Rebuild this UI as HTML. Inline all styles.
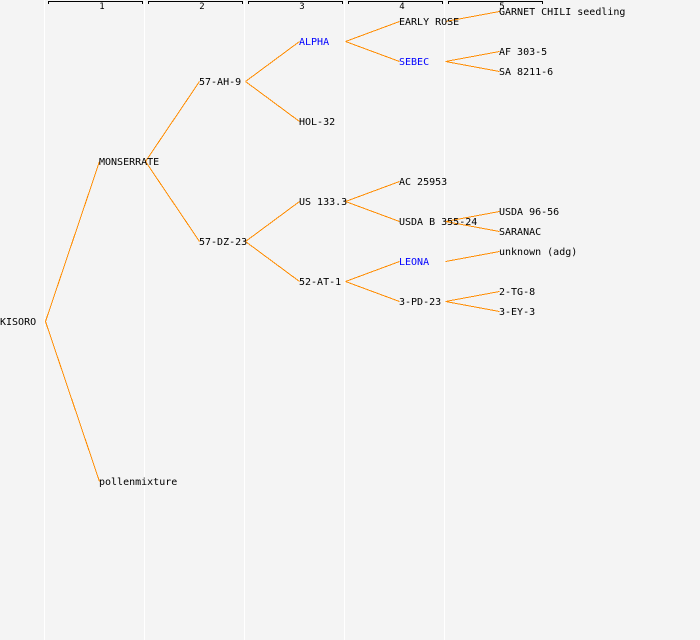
<!DOCTYPE html>
<html>
<head>
<meta charset="utf-8">
<style>
html,body{margin:0;padding:0;background:#f4f4f4;}
svg{display:block;}
text{font-family:"DejaVu Sans Mono","Liberation Mono",monospace;font-size:10px;fill:#000;}
.b{fill:#0000ff;}
.h{font-size:9px;text-anchor:middle;}
.o line{stroke:#ff8c00;stroke-width:1;}
.v line{stroke:#ffffff;stroke-width:1;}
.k path{stroke:#000;stroke-width:1;fill:none;}
</style>
</head>
<body>
<svg width="700" height="640" viewBox="0 0 700 640" xmlns="http://www.w3.org/2000/svg">
<rect width="700" height="640" fill="#f4f4f4"/>
<g class="v" shape-rendering="crispEdges">
<line x1="44.5" y1="0" x2="44.5" y2="640"/>
<line x1="144.5" y1="0" x2="144.5" y2="640"/>
<line x1="244.5" y1="0" x2="244.5" y2="640"/>
<line x1="344.5" y1="0" x2="344.5" y2="640"/>
<line x1="444.5" y1="0" x2="444.5" y2="640"/>
</g>
<g class="k" shape-rendering="crispEdges">
<path d="M48.5 4V1.5H142.5V4"/>
<path d="M148.5 4V1.5H242.5V4"/>
<path d="M248.5 4V1.5H342.5V4"/>
<path d="M348.5 4V1.5H442.5V4"/>
<path d="M448.5 4V1.5H542.5V4"/>
</g>
<text class="h" x="102" y="9">1</text>
<text class="h" x="202" y="9">2</text>
<text class="h" x="302" y="9">3</text>
<text class="h" x="402" y="9">4</text>
<text class="h" x="502" y="9">5</text>
<g class="o" shape-rendering="crispEdges">
<line x1="45.5" y1="321.5" x2="99.5" y2="161.5"/>
<line x1="45.5" y1="321.5" x2="99.5" y2="481.5"/>
<line x1="145.5" y1="161.5" x2="199.5" y2="81.5"/>
<line x1="145.5" y1="161.5" x2="199.5" y2="241.5"/>
<line x1="245.5" y1="81.5" x2="299.5" y2="41.5"/>
<line x1="245.5" y1="81.5" x2="299.5" y2="121.5"/>
<line x1="245.5" y1="241.5" x2="299.5" y2="201.5"/>
<line x1="245.5" y1="241.5" x2="299.5" y2="281.5"/>
<line x1="345.5" y1="41.5" x2="399.5" y2="21.5"/>
<line x1="345.5" y1="41.5" x2="399.5" y2="61.5"/>
<line x1="345.5" y1="201.5" x2="399.5" y2="181.5"/>
<line x1="345.5" y1="201.5" x2="399.5" y2="221.5"/>
<line x1="345.5" y1="281.5" x2="399.5" y2="261.5"/>
<line x1="345.5" y1="281.5" x2="399.5" y2="301.5"/>
<line x1="445.5" y1="21.5" x2="499.5" y2="11.5"/>
<line x1="445.5" y1="61.5" x2="499.5" y2="51.5"/>
<line x1="445.5" y1="61.5" x2="499.5" y2="71.5"/>
<line x1="445.5" y1="221.5" x2="499.5" y2="211.5"/>
<line x1="445.5" y1="221.5" x2="499.5" y2="231.5"/>
<line x1="445.5" y1="261.5" x2="499.5" y2="251.5"/>
<line x1="445.5" y1="301.5" x2="499.5" y2="291.5"/>
<line x1="445.5" y1="301.5" x2="499.5" y2="311.5"/>
</g>
<text x="0" y="325">KISORO</text>
<text x="99" y="165">MONSERRATE</text>
<text x="99" y="485">pollenmixture</text>
<text x="199" y="85">57-AH-9</text>
<text x="199" y="245">57-DZ-23</text>
<text class="b" x="299" y="45">ALPHA</text>
<text x="299" y="125">HOL-32</text>
<text x="299" y="205">US 133.3</text>
<text x="299" y="285">52-AT-1</text>
<text x="399" y="25">EARLY ROSE</text>
<text class="b" x="399" y="65">SEBEC</text>
<text x="399" y="185">AC 25953</text>
<text x="399" y="225">USDA B 355-24</text>
<text class="b" x="399" y="265">LEONA</text>
<text x="399" y="305">3-PD-23</text>
<text x="499" y="15">GARNET CHILI seedling</text>
<text x="499" y="55">AF 303-5</text>
<text x="499" y="75">SA 8211-6</text>
<text x="499" y="215">USDA 96-56</text>
<text x="499" y="235">SARANAC</text>
<text x="499" y="255">unknown (adg)</text>
<text x="499" y="295">2-TG-8</text>
<text x="499" y="315">3-EY-3</text>
</svg>
</body>
</html>
